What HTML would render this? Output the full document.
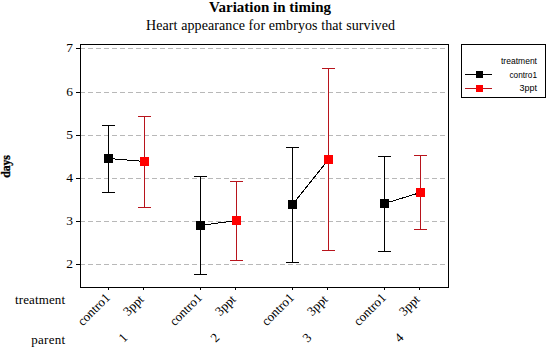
<!DOCTYPE html>
<html><head><meta charset="utf-8"><style>
html,body{margin:0;padding:0;background:#fff;width:551px;height:358px;overflow:hidden}
svg{display:block}
text{font-family:"Liberation Serif",serif;fill:#000}
.tk{font-size:13.5px}
.bl{font-size:13px}
.cl{font-size:13px}
.ti{font-size:15px;font-weight:bold}
.st{font-size:14px}
.yl{font-size:13px;font-weight:bold;stroke:#000;stroke-width:0.35px}
.lg{font-family:"Liberation Sans",sans-serif;font-size:9px}
</style></head><body>
<svg width="551" height="358" viewBox="0 0 551 358" shape-rendering="crispEdges">
<rect x="80.5" y="44.5" width="368" height="243" fill="none" stroke="#000" stroke-width="1"/>
<line x1="80" y1="48.5" x2="448" y2="48.5" stroke="#b8b8b8" stroke-dasharray="5 3"/>
<line x1="80" y1="92.5" x2="448" y2="92.5" stroke="#b8b8b8" stroke-dasharray="5 3"/>
<line x1="80" y1="135.5" x2="448" y2="135.5" stroke="#b8b8b8" stroke-dasharray="5 3"/>
<line x1="80" y1="178.5" x2="448" y2="178.5" stroke="#b8b8b8" stroke-dasharray="5 3"/>
<line x1="80" y1="221.5" x2="448" y2="221.5" stroke="#b8b8b8" stroke-dasharray="5 3"/>
<line x1="80" y1="264.5" x2="448" y2="264.5" stroke="#b8b8b8" stroke-dasharray="5 3"/>
<line x1="76" y1="48.5" x2="80" y2="48.5" stroke="#000"/>
<text x="73" y="52" text-anchor="end" class="tk">7</text>
<line x1="76" y1="92.5" x2="80" y2="92.5" stroke="#000"/>
<text x="73" y="96" text-anchor="end" class="tk">6</text>
<line x1="76" y1="135.5" x2="80" y2="135.5" stroke="#000"/>
<text x="73" y="139" text-anchor="end" class="tk">5</text>
<line x1="76" y1="178.5" x2="80" y2="178.5" stroke="#000"/>
<text x="73" y="182" text-anchor="end" class="tk">4</text>
<line x1="76" y1="221.5" x2="80" y2="221.5" stroke="#000"/>
<text x="73" y="225" text-anchor="end" class="tk">3</text>
<line x1="76" y1="264.5" x2="80" y2="264.5" stroke="#000"/>
<text x="73" y="268" text-anchor="end" class="tk">2</text>
<line x1="108.5" y1="287" x2="108.5" y2="290" stroke="#000"/>
<line x1="143.5" y1="287" x2="143.5" y2="290" stroke="#000"/>
<line x1="200.5" y1="287" x2="200.5" y2="290" stroke="#000"/>
<line x1="235.5" y1="287" x2="235.5" y2="290" stroke="#000"/>
<line x1="292.5" y1="287" x2="292.5" y2="290" stroke="#000"/>
<line x1="327.5" y1="287" x2="327.5" y2="290" stroke="#000"/>
<line x1="384.5" y1="287" x2="384.5" y2="290" stroke="#000"/>
<line x1="419.5" y1="287" x2="419.5" y2="290" stroke="#000"/>
<line x1="108.5" y1="158.5" x2="144.5" y2="161.5" stroke="#000"/>
<line x1="200.5" y1="225.5" x2="236.5" y2="220.5" stroke="#000"/>
<line x1="292.5" y1="204.5" x2="328.5" y2="159.5" stroke="#000"/>
<line x1="384.5" y1="203.5" x2="420.5" y2="192.5" stroke="#000"/>
<line x1="108.5" y1="125" x2="108.5" y2="193" stroke="#000"/>
<line x1="102" y1="125.5" x2="115" y2="125.5" stroke="#000"/>
<line x1="102" y1="192.5" x2="115" y2="192.5" stroke="#000"/>
<rect x="104" y="154" width="9" height="9" fill="#000"/>
<line x1="144.5" y1="116" x2="144.5" y2="208" stroke="#b8141c"/>
<line x1="138" y1="116.5" x2="151" y2="116.5" stroke="#b8141c"/>
<line x1="138" y1="207.5" x2="151" y2="207.5" stroke="#b8141c"/>
<rect x="140" y="157" width="9" height="9" fill="#ff0000"/>
<line x1="200.5" y1="176" x2="200.5" y2="275" stroke="#000"/>
<line x1="194" y1="176.5" x2="207" y2="176.5" stroke="#000"/>
<line x1="194" y1="274.5" x2="207" y2="274.5" stroke="#000"/>
<rect x="196" y="221" width="9" height="9" fill="#000"/>
<line x1="236.5" y1="181" x2="236.5" y2="261" stroke="#b8141c"/>
<line x1="230" y1="181.5" x2="243" y2="181.5" stroke="#b8141c"/>
<line x1="230" y1="260.5" x2="243" y2="260.5" stroke="#b8141c"/>
<rect x="232" y="216" width="9" height="9" fill="#ff0000"/>
<line x1="292.5" y1="147" x2="292.5" y2="263" stroke="#000"/>
<line x1="286" y1="147.5" x2="299" y2="147.5" stroke="#000"/>
<line x1="286" y1="262.5" x2="299" y2="262.5" stroke="#000"/>
<rect x="288" y="200" width="9" height="9" fill="#000"/>
<line x1="328.5" y1="68" x2="328.5" y2="251" stroke="#b8141c"/>
<line x1="322" y1="68.5" x2="335" y2="68.5" stroke="#b8141c"/>
<line x1="322" y1="250.5" x2="335" y2="250.5" stroke="#b8141c"/>
<rect x="324" y="155" width="9" height="9" fill="#ff0000"/>
<line x1="384.5" y1="156" x2="384.5" y2="252" stroke="#000"/>
<line x1="378" y1="156.5" x2="391" y2="156.5" stroke="#000"/>
<line x1="378" y1="251.5" x2="391" y2="251.5" stroke="#000"/>
<rect x="380" y="199" width="9" height="9" fill="#000"/>
<line x1="420.5" y1="155" x2="420.5" y2="230" stroke="#b8141c"/>
<line x1="414" y1="155.5" x2="427" y2="155.5" stroke="#b8141c"/>
<line x1="414" y1="229.5" x2="427" y2="229.5" stroke="#b8141c"/>
<rect x="416" y="188" width="9" height="9" fill="#ff0000"/>
<rect x="80.5" y="44.5" width="368" height="243" fill="none" stroke="#000" stroke-width="1"/>
<rect x="461.5" y="44.5" width="84" height="53" fill="none" stroke="#000"/>
<line x1="465" y1="74.5" x2="492" y2="74.5" stroke="#000"/>
<rect x="476" y="71" width="7" height="7" fill="#000"/>
<line x1="465" y1="88.5" x2="492" y2="88.5" stroke="#b8141c"/>
<rect x="476" y="85" width="7" height="7" fill="#ff0000"/>
<text x="501" y="64" textLength="36" lengthAdjust="spacingAndGlyphs" class="lg">treatment</text>
<text x="509.5" y="78" textLength="27.5" lengthAdjust="spacingAndGlyphs" class="lg">contro1</text>
<text x="537" y="91" text-anchor="end" class="lg">3ppt</text>
<text x="270" y="12" text-anchor="middle" class="ti">Variation in timing</text>
<text x="270.5" y="30" text-anchor="middle" textLength="249" lengthAdjust="spacing" class="st">Heart appearance for embryos that survived</text>
<text transform="translate(10,166.5) rotate(-90) scale(0.9,1)" text-anchor="middle" class="yl">days</text>
<text x="15" y="304" textLength="50" lengthAdjust="spacing" class="bl">treatment</text>
<text x="31.3" y="343.8" textLength="33.7" lengthAdjust="spacing" class="bl">parent</text>
<text transform="translate(110.75,298.45) rotate(-45)" text-anchor="end" class="cl">contro1</text>
<text transform="translate(144.6,300.1) rotate(-45)" text-anchor="end" class="cl">3ppt</text>
<text transform="translate(202.75,298.45) rotate(-45)" text-anchor="end" class="cl">contro1</text>
<text transform="translate(236.6,300.1) rotate(-45)" text-anchor="end" class="cl">3ppt</text>
<text transform="translate(294.75,298.45) rotate(-45)" text-anchor="end" class="cl">contro1</text>
<text transform="translate(328.6,300.1) rotate(-45)" text-anchor="end" class="cl">3ppt</text>
<text transform="translate(386.75,298.45) rotate(-45)" text-anchor="end" class="cl">contro1</text>
<text transform="translate(420.6,300.1) rotate(-45)" text-anchor="end" class="cl">3ppt</text>
<text transform="translate(122.8,337.5) rotate(-45)" text-anchor="middle" dominant-baseline="central" class="cl">1</text>
<text transform="translate(214.8,337.5) rotate(-45)" text-anchor="middle" dominant-baseline="central" class="cl">2</text>
<text transform="translate(306.8,337.5) rotate(-45)" text-anchor="middle" dominant-baseline="central" class="cl">3</text>
<text transform="translate(398.8,337.5) rotate(-45)" text-anchor="middle" dominant-baseline="central" class="cl">4</text>
</svg>
</body></html>
